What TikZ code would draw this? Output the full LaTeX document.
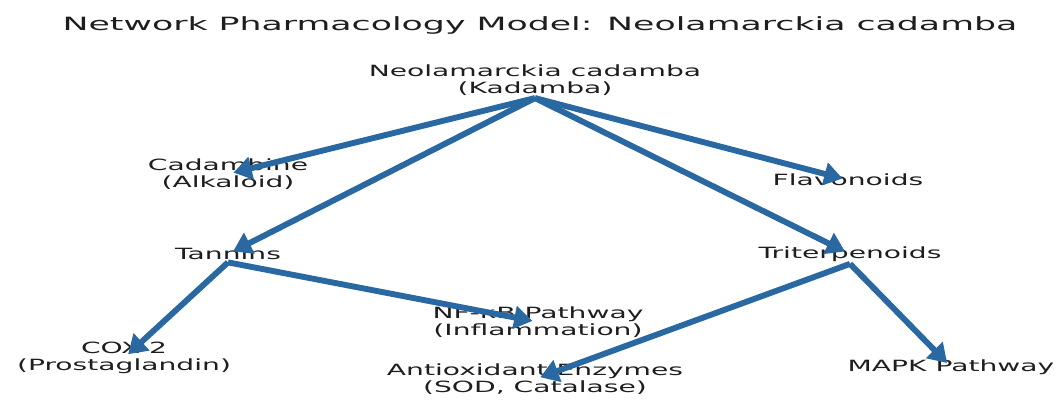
\documentclass[tikz,border=0pt]{standalone}
\usepackage{fontspec}
\setmainfont{DejaVu Sans}
\usetikzlibrary{arrows.meta}
\definecolor{edgeblue}{HTML}{2A68A2}
\definecolor{txtgray}{HTML}{1E1E1E}
\begin{document}
\begin{tikzpicture}[
    lbl/.style={font=\fontsize{11}{12.5}\selectfont, text=txtgray, align=center, xscale=1.82, inner sep=1.5pt},
    ttl/.style={font=\fontsize{13}{13}\selectfont, text=txtgray, xscale=1.9, inner sep=0pt},
    edge/.style={draw=edgeblue, line width=4.2pt, -{Triangle[width=16pt,length=13pt]}, shorten >=4pt}]
        \useasboundingbox (0,0) rectangle (26.55,10.05);
        \node[ttl] (title) at (13.5,9.42) {Network Pharmacology Model: Neolamarckia cadamba};
        \node[lbl] (plant) at (13.375,8.05) {Neolamarckia cadamba\\(Kadamba)};
        \node[lbl] (cadambine) at (5.7,5.7) {Cadambine\\(Alkaloid)};
        \node[lbl] (flavonoids) at (21.2,5.55) {Flavonoids};
        \node[lbl] (tannins) at (5.7,3.7) {Tannins};
        \node[lbl] (triterpenoids) at (21.25,3.7) {Triterpenoids};
        \node[lbl] (cox) at (3.1,1.1) {COX-2\\(Prostaglandin)};
        \node[lbl] (nfkb) at (13.45,2.0) {NF-κB Pathway\\(Inflammation)};
        \node[lbl] (antiox) at (13.375,0.57) {Antioxidant Enzymes\\(SOD, Catalase)};
        \node[lbl] (mapk) at (23.775,0.875) {MAPK Pathway};
        % edges drawn on top of the labels
        \draw[edge] (plant.south) -- (cadambine.center);
        \draw[edge] (plant.south) -- (flavonoids.center);
        \draw[edge] (plant.south) -- (tannins.center);
        \draw[edge] (plant.south) -- (triterpenoids.center);
        \draw[edge] (tannins.south) -- (cox.center);
        \draw[edge] (tannins.south) -- (nfkb.center);
        \draw[edge] (triterpenoids.south) -- (antiox.center);
        \draw[edge] (triterpenoids.south) -- (mapk.center);
    \end{tikzpicture}
\end{document}
